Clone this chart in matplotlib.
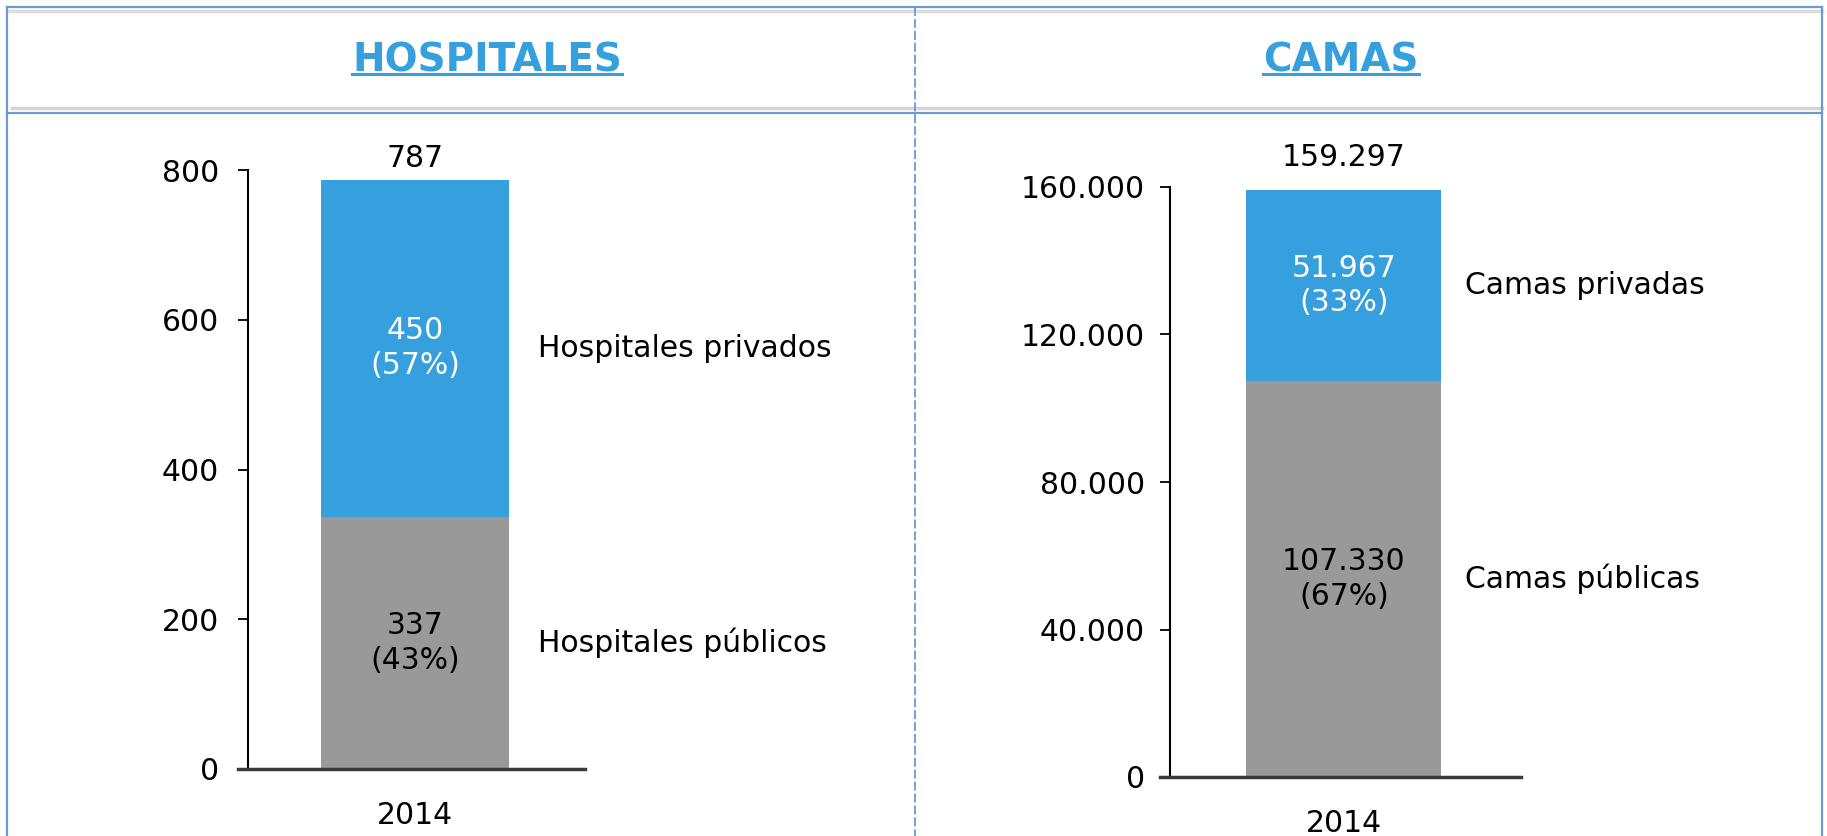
import matplotlib.pyplot as plt
from matplotlib.lines import Line2D
from matplotlib.ticker import FuncFormatter

plt.rcParams['font.family'] = ['DejaVu Sans']

years = ['2014']
hosp_publicos = [337]
hosp_privados = [450]
camas_publicas = [107330]
camas_privadas = [51967]

titles = ['HOSPITALES', 'CAMAS']
labels_pub = ['Hospitales públicos', 'Camas públicas']
labels_priv = ['Hospitales privados', 'Camas privadas']

BLUE = '#369fdd'
GRAY = '#999999'
BORDER = '#6a9bd1'
W, H = 1827, 836
FS = 21.5


def miles(v, pos=None):
    return f'{int(round(v)):,}'.replace(',', '.')


def fx(x):
    return x / W


def fy(y):
    return 1 - y / H


fig = plt.figure(figsize=(W / 100, H / 100), dpi=100)

# frame of the two panels
def fline(x0, y0, x1, y1, **kw):
    fig.add_artist(Line2D([fx(x0), fx(x1)], [fy(y0), fy(y1)], transform=fig.transFigure, **kw))

fline(7, 10.5, 1822, 10.5, color='#dcdcdc', lw=2.5)
fline(12, 107.5, 1822, 107.5, color='#d4d4d4', lw=2.5)
fline(7, 7, 1822, 7, color=BORDER, lw=1.6)
fline(7, 113, 1822, 113, color=BORDER, lw=1.6)
fline(7, 7, 7, 836, color=BORDER, lw=1.6)
fline(1822, 7, 1822, 836, color=BORDER, lw=1.6)
fline(915, 7, 915, 836, color=BORDER, lw=1.3, linestyle=(0, (5, 1.6)))

# panels: (left, right, top, bottom) in pixels
boxes = [(248, 585, 170, 769), (1170, 1521, 187, 777)]
data = [(hosp_publicos, hosp_privados, 800, 200),
        (camas_publicas, camas_privadas, 160000, 40000)]
title_x = [487, 1341]
tot_off = [9, 17]
side_off = [21, 17]
ypads = [14, 11]

title_texts = []
for i in range(2):
    l, r, t, b = boxes[i]
    ax = fig.add_axes([fx(l), fy(b), fx(r - l), (b - t) / H])
    pub, priv, ymax, step = data[i]
    x = list(range(len(years)))
    ax.bar(x, pub, width=0.6, color=GRAY)
    ax.bar(x, priv, width=0.6, bottom=pub, color=BLUE)
    ax.set_xlim(-0.535, 0.545)
    ax.set_ylim(0, ymax)
    ax.set_yticks(range(0, ymax + 1, step))
    ax.yaxis.set_major_formatter(FuncFormatter(miles))
    ax.set_xticks(x)
    ax.set_xticklabels(years)
    ax.tick_params(axis='x', length=0, pad=23, labelsize=FS)
    ax.tick_params(axis='y', length=7, width=1.3, pad=ypads[i], labelsize=FS)
    for s in ['top', 'right']:
        ax.spines[s].set_visible(False)
    ax.spines['left'].set_linewidth(1.5)
    ax.spines['bottom'].set_linewidth(2.5)
    ax.spines['bottom'].set_color('#3a3a3a')
    ax.spines['bottom'].set_bounds(-0.535 - 0.032, 0.545)

    for xi, p, q in zip(x, pub, priv):
        tot = p + q
        ax.annotate(miles(tot), (xi, tot), xytext=(0, tot_off[i]), textcoords='offset points',
                    ha='center', va='baseline', fontsize=FS)
        ax.text(xi, p / 2, f'{miles(p)}\n({round(100 * p / tot)}%)', ha='center', va='center',
                fontsize=FS, color='black', linespacing=1.25)
        ax.text(xi, p + q / 2, f'{miles(q)}\n({round(100 * q / tot)}%)', ha='center', va='center',
                fontsize=FS, color='white', linespacing=1.25)
        ax.annotate(labels_pub[i], (xi + 0.3, p / 2), xytext=(side_off[i], 0),
                    textcoords='offset points', ha='left', va='center', fontsize=FS,
                    annotation_clip=False)
        ax.annotate(labels_priv[i], (xi + 0.3, p + q / 2), xytext=(side_off[i], 0),
                    textcoords='offset points', ha='left', va='center', fontsize=FS,
                    annotation_clip=False)

    tt = fig.text(fx(title_x[i]), fy(71), titles[i], ha='center', va='baseline',
                  fontsize=28, fontweight='bold', color=BLUE)
    title_texts.append(tt)

# underline the titles
fig.canvas.draw()
for tt in title_texts:
    bb = tt.get_window_extent()
    fline(bb.x0, 74, bb.x1, 74, color=BLUE, lw=2.2)

fig.savefig('out.png', dpi=100)
